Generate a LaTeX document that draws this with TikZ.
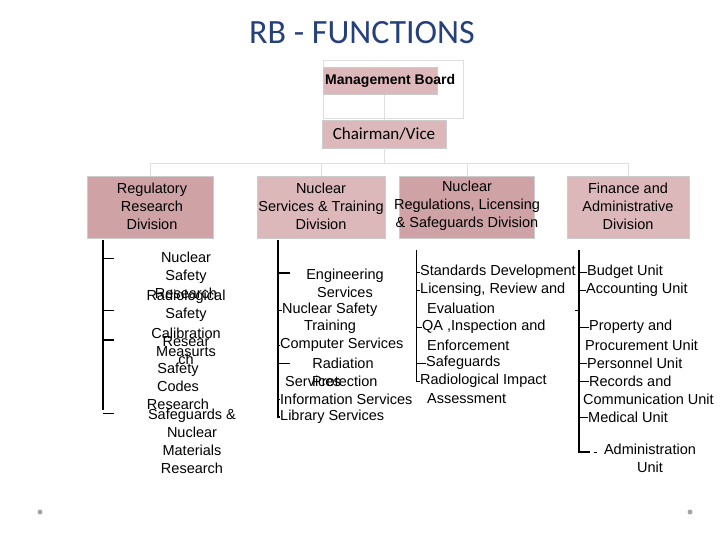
\documentclass[tikz,border=0pt]{standalone}
\usepackage{fontspec}
\setmainfont{Liberation Sans}
\newfontfamily\titlefont{Carlito}
\usetikzlibrary{positioning}
\definecolor{boxpink}{HTML}{DDB8BB}
\definecolor{boxdark}{HTML}{CFA2A6}
\definecolor{titleblue}{HTML}{26407A}
\begin{document}
\begin{tikzpicture}[x=1pt,y=-1pt]
	\tikzstyle{head} = [rectangle, fill=boxpink, draw=gray!40, inner sep=0pt]
	\tikzstyle{unit} = [inner sep=0pt, align=center, font=\fontsize{14.5}{18}\selectfont]
	\tikzstyle{item} = [inner sep=0pt, anchor=west, font=\fontsize{14.5}{18}\selectfont]
	\tikzstyle{spine} = [draw, line width=1.6pt]
	\tikzstyle{tick} = [draw, line width=0.7pt]
	\tikzstyle{link} = [draw=gray!25, line width=1pt]
	\useasboundingbox (0,0) rectangle (720,540);
	% Title
	\node [font=\titlefont\fontsize{34}{38}\selectfont, text=titleblue] (title) at (362,33) {RB - FUNCTIONS};
	% Top boxes
	\draw [gray!25] (323,60) rectangle (463,118);
	\node [head, minimum width=114, minimum height=27] (board) at (380,81) {};
	\node [font=\bfseries\fontsize{14}{16}\selectfont, anchor=west, inner sep=0pt] (boardtxt) at (325,81) {Management Board};
	\node [head, minimum width=124, minimum height=28, font=\titlefont\fontsize{17}{19}\selectfont] (chair) at (384,134) {Chairman/Vice};
	% Divisions
	\node [head, fill=boxdark, minimum width=126, minimum height=62] (regbox) at (150,207) {};
	\node [head, minimum width=128, minimum height=62] (nstbox) at (321,207) {};
	\node [head, fill=boxdark, minimum width=135, minimum height=62] (nrlbox) at (467,207) {};
	\node [head, minimum width=122, minimum height=62] (finbox) at (628,207) {};
	\node [unit] (reg) at (152,206) {Regulatory\\Research\\Division};
	\node [unit] (nst) at (321,206) {Nuclear\\Services \& Training\\Division};
	\node [unit] (nrl) at (467,206) {Nuclear\\Regulations, Licensing\\\& Safeguards Division};
	\node [unit] (fin) at (628,206) {Finance and\\Administrative\\Division};
	% Connectors at the top
	\path [link] (chair.north) -- (chair.north |- board.south);
	\path [link] (chair.south) -- ++(0,15) coordinate (hub);
	\path [link] (regbox.north) |- (hub) -| (finbox.north);
	\path [link] (nstbox.north) |- (hub);
	\path [link] (nrlbox.north) |- (hub);
	% Regulatory research units
	\node [unit] (nsr) at (186,275) {Nuclear\\Safety\\Research};
	\node [unit] (rad) at (186,306) {Radiological\\Safety};
	\node [unit] (cal) at (186,342) {Calibration\\Measurts};
	\node [unit] (rsch) at (186,351) {Resear\\ch};
	\node [unit] (scr) at (178,386) {Safety\\Codes\\Research};
	\node [unit] (sgm) at (192,441) {Safeguards \&\\Nuclear\\Materials\\Research};
	\coordinate (r1) at (103,240);
	\coordinate (r2) at (103,410);
	\path [spine] (r1) -- (r2);
	\path [tick] (103,258) -- ++(11,0);
	\path [tick] (103,310) -- ++(11,0);
	\path [spine] (103,340) -- ++(11,0);
	\path [tick] (103,413) -- ++(11,0);
	% Nuclear services units
	\node [unit] (eng) at (345,283) {Engineering\\Services};
	\node [item] (nstr) at (282,310) {Nuclear Safety};
	\node [unit] (trn) at (330,327) {Training};
	\node [item] (cmp) at (280,345) {Computer Services};
	\node [unit] (radn) at (343,363) {Radiation};
	\node [item] (svc) at (285,381) {Services};
	\node [item] (prot) at (312,381) {Protection};
	\node [item] (inf) at (280,399) {Information Services};
	\node [item] (lib) at (280,417) {Library Services};
	\coordinate (s1) at (278,240);
	\path [spine] (s1) |- (lib.west);
	\path [spine] (278,273) -- ++(12,0);
	\path [tick] (278,310) -- (nstr.west);
	\path [tick] (278,345) -- (cmp.west);
	\path [tick] (278,363) -- ++(12,0);
	\path [tick] (278,399) -- (inf.west);
	% Regulations units
	\node [item] (std) at (420,272) {Standards Development};
	\node [item] (lic) at (420,290) {Licensing, Review and};
	\node [item] (evl) at (427,308) {Evaluation};
	\node [item] (qa) at (422,327) {QA ,Inspection and};
	\node [item] (enf) at (427,345) {Enforcement};
	\node [item] (sfg) at (426,363) {Safeguards};
	\node [item] (rim) at (420,381) {Radiological Impact};
	\node [item] (asm) at (427,399) {Assessment};
	\coordinate (g1) at (416,250);
	\path [tick] (g1) |- (rim.west);
	\path [tick] (416,272) -- (std.west);
	\path [tick] (416,290) -- (lic.west);
	\path [tick] (416,327) -- (qa.west);
	\path [tick] (416,363) -- (sfg.west);
	% Finance units
	\node [item] (bud) at (587,272) {Budget Unit};
	\node [item] (acc) at (586,290) {Accounting Unit};
	\node [item] (prp) at (589,327) {Property and};
	\node [item] (pcu) at (585,345) {Procurement Unit};
	\node [item] (per) at (587,363) {Personnel Unit};
	\node [item] (rec) at (589,381) {Records and};
	\node [item] (com) at (583,399) {Communication Unit};
	\node [item] (med) at (588,417) {Medical Unit};
	\node [unit] (adm) at (650,458) {Administration\\Unit};
	\coordinate (f1) at (579,250);
	\coordinate (f2) at (590,452);
	\path [spine] (f1) |- (f2);
	\path [tick] (579,272) -- (bud.west);
	\path [tick] (579,290) -- (acc.west);
	\path [tick] (575,310) -- (579,310);
	\path [tick] (579,327) -- (prp.west);
	\path [tick] (579,363) -- (per.west);
	\path [tick] (579,381) -- (rec.west);
	\path [tick] (579,417) -- (med.west);
	\path [tick] (594,452) -- (597,452);
	% Slide dots
	\fill [gray!70] (40,512) circle (2.5);
	\fill [gray!70] (690,512) circle (2.5);
\end{tikzpicture}
\end{document}
